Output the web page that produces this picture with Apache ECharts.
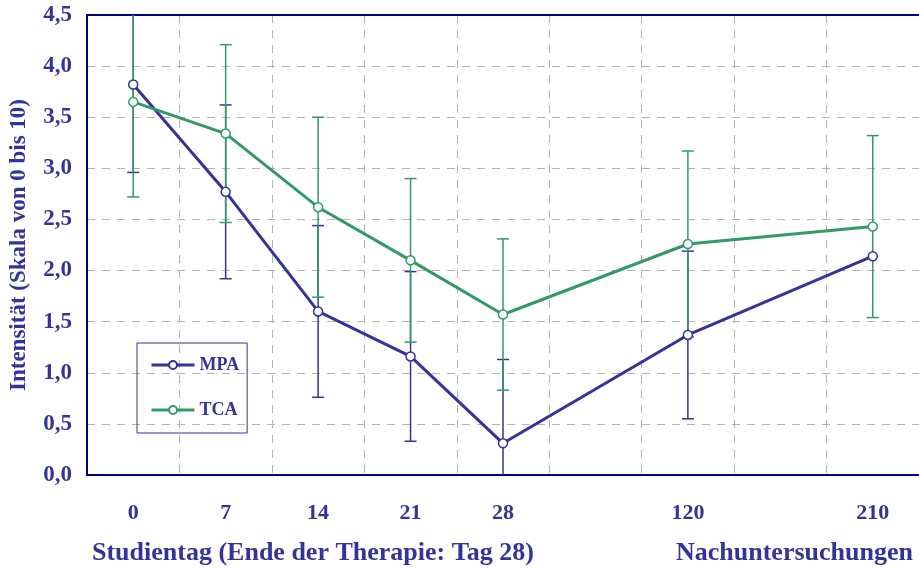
<!DOCTYPE html>
<html>
<head>
<meta charset="utf-8">
<script src="https://cdn.jsdelivr.net/npm/echarts@6/dist/echarts.min.js"></script>
<style>
  html, body { margin: 0; padding: 0; background: #fff; }
  #chart { width: 919px; height: 568px; }
</style>
</head>
<body>
<div id="chart"></div>
<script>
// Kategorien (leere Slots halten den Abstand zu den Nachuntersuchungen)
const days = ['0', '7', '14', '21', '28', '', '120', '', '210']

// Mittelwerte
const mpaMean = [3.82, 2.77, 1.60, 1.16, 0.31, null, 1.37, null, 2.14]
const tcaMean = [3.65, 3.34, 2.62, 2.10, 1.57, null, 2.26, null, 2.43]

// Standardabweichung (Fehlerbalken)
const mpaSd = [0.86, 0.85, 0.84, 0.83, 0.82, null, 0.82, null, null]
const tcaSd = [0.93, 0.87, 0.88, 0.80, 0.74, null, 0.91, null, 0.89]

const blue = '#333399'
const green = '#339966'
const axisColor = '#000080'
const textFont = 'Liberation Serif'
const gridDash = { color: '#b3b3b3', type: [8, 7], width: 1 }

function errorData (mean, sd) {
    const out = []
    mean.forEach((m, i) => {
        if (m !== null && sd[i] !== null) out.push([i, m - sd[i], m + sd[i]])
    })
    return out
}

function errorSeries (name, mean, sd, color) {
    return {
        type: 'custom',
        name: name + '_err',
        z: 1,
        silent: true,
        clip: true,
        data: errorData(mean, sd),
        renderItem: function (params, api) {
            const x = api.value(0)
            const lo = api.coord([x, api.value(1)])
            const hi = api.coord([x, api.value(2)])
            const w = 6
            const st = { stroke: color, lineWidth: 1.5 }
            return {
                type: 'group',
                children: [
                    { type: 'line', shape: { x1: lo[0], y1: lo[1], x2: hi[0], y2: hi[1] }, style: st },
                    { type: 'line', shape: { x1: lo[0] - w, y1: lo[1], x2: lo[0] + w, y2: lo[1] }, style: st },
                    { type: 'line', shape: { x1: hi[0] - w, y1: hi[1], x2: hi[0] + w, y2: hi[1] }, style: st }
                ]
            }
        }
    }
}

function lineSeries (name, mean, color) {
    return {
        name: name,
        type: 'line',
        z: 3,
        data: mean,
        connectNulls: true,
        symbol: 'circle',
        symbolSize: 9,
        lineStyle: { color: color, width: 3 },
        itemStyle: { color: '#fff', borderColor: color, borderWidth: 1.5 }
    }
}

const chart = echarts.init(document.getElementById('chart'))

const option = {
    animation: false,
    textStyle: { fontFamily: textFont },
    grid: {
        left: 87,
        right: -2,
        top: 15,
        bottom: 93
    },
    legend: {
        orient: 'vertical',
        left: 137,
        top: 343,
        data: ['MPA', 'TCA'],
        borderColor: blue,
        borderWidth: 1,
        padding: [13, 8, 14, 13],
        itemGap: 27,
        itemWidth: 43,
        itemHeight: 10,
        lineStyle: { width: 3 },
        textStyle: { color: blue, fontWeight: 'bold', fontSize: 18, fontFamily: textFont }
    },
    xAxis: [
        {
            type: 'category',
            data: days,
            boundaryGap: true,
            axisLine: { lineStyle: { color: axisColor, width: 2 } },
            axisTick: { show: false },
            axisLabel: {
                margin: 27,
                color: blue,
                fontWeight: 'bold',
                fontSize: 22,
                fontFamily: textFont,
                interval: 0
            },
            splitLine: { show: true, interval: 0, lineStyle: gridDash }
        },
        {
            // nur obere Rahmenlinie
            type: 'category',
            data: days,
            position: 'top',
            axisLine: { lineStyle: { color: axisColor, width: 2 } },
            axisTick: { show: false },
            axisLabel: { show: false },
            splitLine: { show: false }
        }
    ],
    yAxis: {
        type: 'value',
        min: 0,
        max: 4.5,
        interval: 0.5,
        name: 'Intensität (Skala von 0 bis 10)',
        nameLocation: 'middle',
        nameRotate: 90,
        nameGap: 56,
        nameTextStyle: { color: blue, fontWeight: 'bold', fontSize: 23, fontFamily: textFont },
        axisLine: { show: true, lineStyle: { color: axisColor, width: 2 } },
        axisTick: { show: false },
        axisLabel: {
            margin: 15,
            color: blue,
            fontWeight: 'bold',
            fontSize: 23,
            fontFamily: textFont,
            formatter: v => v.toFixed(1).replace('.', ',')
        },
        splitLine: { lineStyle: gridDash }
    },
    graphic: [
        {
            type: 'text',
            left: 92,
            top: 540,
            style: {
                text: 'Studientag (Ende der Therapie: Tag 28)',
                fill: blue,
                font: 'bold 26px "Liberation Serif"'
            }
        },
        {
            type: 'text',
            left: 676,
            top: 540,
            style: {
                text: 'Nachuntersuchungen',
                fill: blue,
                font: 'bold 26px "Liberation Serif"'
            }
        }
    ],
    series: [
        errorSeries('MPA', mpaMean, mpaSd, blue),
        errorSeries('TCA', tcaMean, tcaSd, green),
        lineSeries('MPA', mpaMean, blue),
        lineSeries('TCA', tcaMean, green)
    ]
}

chart.setOption(option)
</script>
</body>
</html>
